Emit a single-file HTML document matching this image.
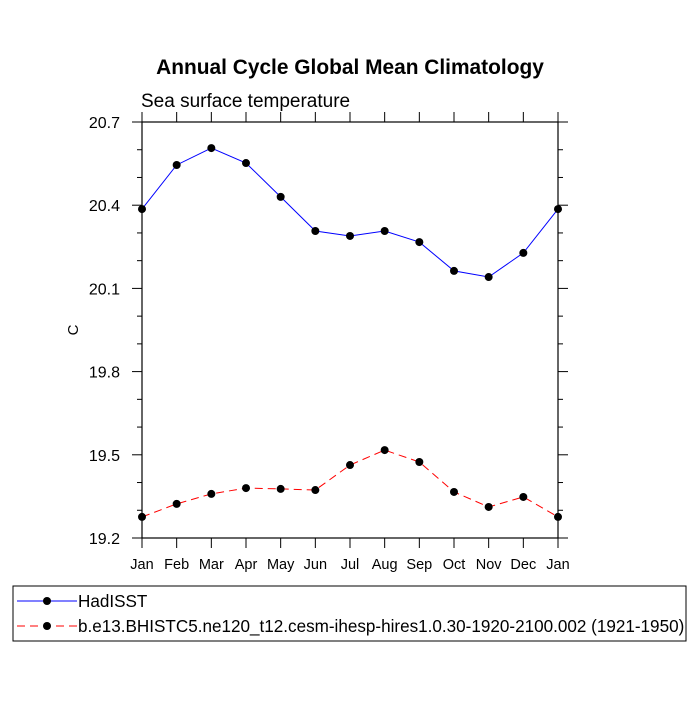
<!DOCTYPE html>
<html><head><meta charset="utf-8"><style>
body{margin:0;background:#fff;}
svg text{font-family:"Liberation Sans",sans-serif;fill:#000;}
</style></head><body>
<svg id="c" width="700" height="700">
<text x="350" y="74" text-anchor="middle" font-size="20.9" font-weight="bold">Annual Cycle Global Mean Climatology</text>
<text x="141" y="107" font-size="19">Sea surface temperature</text>
<text transform="translate(78,330) rotate(-90)" text-anchor="middle" font-size="15">C</text>
<g id="axes"></g><g id="series"></g>
<rect x="13" y="586" width="673" height="55" fill="none" stroke="#000" stroke-width="1"/>
<g>
<line x1="17" y1="601" x2="77" y2="601" stroke="#00f"/><circle cx="47" cy="601" r="4"/>
<text x="78" y="607" font-size="17.1">HadISST</text></g>
<g>
<line x1="17" y1="626" x2="77" y2="626" stroke="#f00" stroke-dasharray="8,5"/><circle cx="47" cy="626" r="4"/>
<text x="78" y="632" font-size="17.1">b.e13.BHISTC5.ne120_t12.cesm-ihesp-hires1.0.30-1920-2100.002 (1921-1950)</text></g>
</svg>
<script>
const months=["Jan","Feb","Mar","Apr","May","Jun","Jul","Aug","Sep","Oct","Nov","Dec","Jan"];
const hadisst=[20.386,20.545,20.606,20.552,20.43,20.307,20.289,20.307,20.267,20.163,20.141,20.228,20.386];
const cesm=[19.276,19.323,19.359,19.380,19.377,19.373,19.463,19.517,19.474,19.366,19.312,19.348,19.276];
const yTicks=[19.2,19.5,19.8,20.1,20.4,20.7];
const L=142,R=558,T=122,B=538,ymin=19.2,ymax=20.7;
const xs=i=>L+(R-L)*i/12, ys=v=>B-(v-ymin)/(ymax-ymin)*(B-T);
const NS="http://www.w3.org/2000/svg";
function mk(p,tag,a){const e=document.createElementNS(NS,tag);for(const k in a)e.setAttribute(k,a[k]);p.appendChild(e);return e;}
const ax=document.getElementById('axes');
const fr=mk(ax,'rect',{x:L,y:T,width:R-L,height:B-T,fill:'none',stroke:'#000','stroke-width':1.2});


months.forEach((m,i)=>{const x=xs(i);
mk(ax,'line',{x1:x,y1:B,x2:x,y2:B+10,stroke:'#000'});
mk(ax,'line',{x1:x,y1:T,x2:x,y2:T-10,stroke:'#000'});
const t=mk(ax,'text',{x:x,y:B+31,'text-anchor':'middle','font-size':14.5});t.textContent=m;

});
for(let v=ymin;v<=ymax+1e-6;v+=0.1){const y=ys(v);const maj=yTicks.some(t=>Math.abs(t-v)<1e-6);const len=maj?10:5;
mk(ax,'line',{x1:L,y1:y,x2:L-len,y2:y,stroke:'#000'});
mk(ax,'line',{x1:R,y1:y,x2:R+len,y2:y,stroke:'#000'});}
yTicks.forEach(v=>{const t=mk(ax,'text',{x:120,y:ys(v)+6,'text-anchor':'end','font-size':16});t.textContent=v.toFixed(1);

});
const sg=document.getElementById('series');
function draw(data,color,dash,name){
const pl=mk(sg,'polyline',{points:data.map((v,i)=>xs(i)+','+ys(v)).join(' '),fill:'none',stroke:color,'stroke-width':1,'stroke-dasharray':dash});


data.forEach((v,i)=>{const c=mk(sg,'circle',{cx:xs(i),cy:ys(v),r:4,fill:'#000'});

});}
draw(hadisst,'#00f','none','hadisst');
draw(cesm,'#f00','8,5','cesm');
</script>
</body></html>
